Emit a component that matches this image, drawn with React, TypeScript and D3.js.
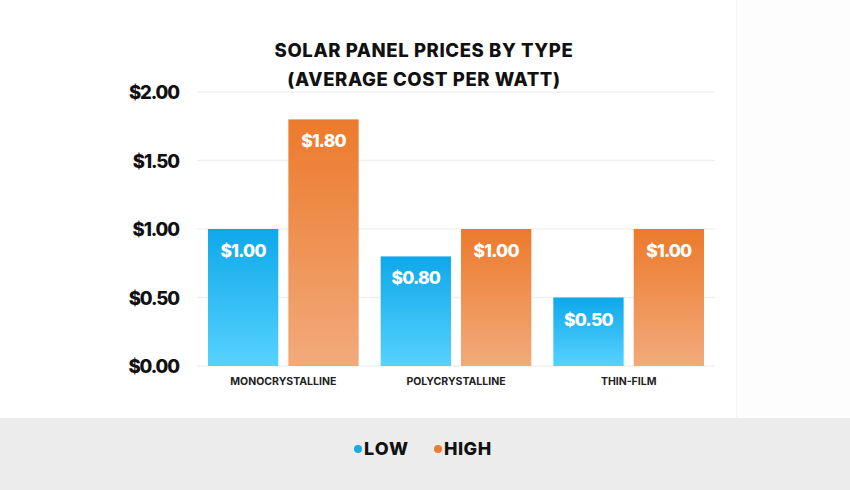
import * as d3 from 'd3'

const categories = ['MONOCRYSTALLINE', 'POLYCRYSTALLINE', 'THIN-FILM']
const lowValues = [1.0, 0.8, 0.5]
const highValues = [1.8, 1.0, 1.0]
const seriesNames = ['LOW', 'HIGH']
const yTicks = [0, 0.5, 1, 1.5, 2]

const W = 850
const H = 490
const FONT = 'Inter, "Open Sans", sans-serif'

const App = () => {
    const x = d3.scaleBand().domain(categories).range([197, 715]).paddingInner(0).paddingOuter(0)
    const inner = d3.scaleBand().domain(seriesNames).range([11, x.bandwidth() - 11]).paddingInner(0.125)
    const y = d3.scaleLinear().domain([0, 2]).range([366, 92])
    const fmt = (v: number) => '$' + v.toFixed(2)

    const rows = categories.map((c, i) => ({ c, vals: [lowValues[i], highValues[i]] }))

    return (
        <svg width={W} height={H} style={{ position: 'absolute', left: 0, top: 0 }}>
            <defs>
                <linearGradient id="gLow" x1="0" y1="0" x2="0" y2="1">
                    <stop offset="0%" stopColor="#0ea8ea" />
                    <stop offset="100%" stopColor="#56d2fe" />
                </linearGradient>
                <linearGradient id="gHigh" x1="0" y1="0" x2="0" y2="1">
                    <stop offset="0%" stopColor="#ec7a2c" />
                    <stop offset="100%" stopColor="#f2aa7b" />
                </linearGradient>
            </defs>
            <rect x={0} y={0} width={W} height={H} fill="#ffffff" />
            <rect x={736} y={0} width={W - 736} height={418} fill="#fdfdfd" />
            <line x1={736.5} x2={736.5} y1={0} y2={418} stroke="#f3f3f3" />
            <rect x={0} y={418} width={W} height={H - 418} fill="#ececec" />

            <text x={424} y={57} textAnchor="middle" fontFamily={FONT} fontWeight={800} fontSize={18.5} letterSpacing={0.6} fill="#111">
                SOLAR PANEL PRICES BY TYPE
            </text>
            <text x={424} y={86} textAnchor="middle" fontFamily={FONT} fontWeight={800} fontSize={18.5} letterSpacing={0.6} fill="#111">
                (AVERAGE COST PER WATT)
            </text>

            {yTicks.map(t => (
                <g key={t}>
                    <line x1={197} x2={715} y1={y(t)} y2={y(t)} stroke="#f0f0f0" strokeWidth={1.5} />
                    <text x={179} y={y(t) + 7} textAnchor="end" fontFamily={FONT} fontWeight={800} fontSize={18.5} letterSpacing={-1.1} fill="#111">
                        {fmt(t)}
                    </text>
                </g>
            ))}

            {rows.map(r => (
                <g key={r.c} transform={`translate(${x(r.c)},0)`}>
                    {r.vals.map((v, j) => {
                        const bx = inner(seriesNames[j])!
                        const bw = inner.bandwidth()
                        return (
                            <g key={j}>
                                <rect x={bx} y={y(v)} width={bw} height={y(0) - y(v)} fill={j === 0 ? 'url(#gLow)' : 'url(#gHigh)'} />
                                <text x={bx + bw / 2} y={y(v) + 28} textAnchor="middle" fontFamily={FONT} fontWeight={800} fontSize={17.5} letterSpacing={-0.8} fill="#fff">
                                    {fmt(v)}
                                </text>
                            </g>
                        )
                    })}
                    <text x={x.bandwidth() / 2} y={385} textAnchor="middle" fontFamily={FONT} fontWeight={700} fontSize={10.5} fill="#222">
                        {r.c}
                    </text>
                </g>
            ))}

            <circle cx={358} cy={449} r={4} fill="#14abeb" />
            <text x={364} y={455} fontFamily={FONT} fontWeight={800} fontSize={18} letterSpacing={1} fill="#111">LOW</text>
            <circle cx={438} cy={449} r={4} fill="#ee7b2e" />
            <text x={444} y={455} fontFamily={FONT} fontWeight={800} fontSize={18} letterSpacing={0.5} fill="#111">HIGH</text>
        </svg>
    )
}

export default App
